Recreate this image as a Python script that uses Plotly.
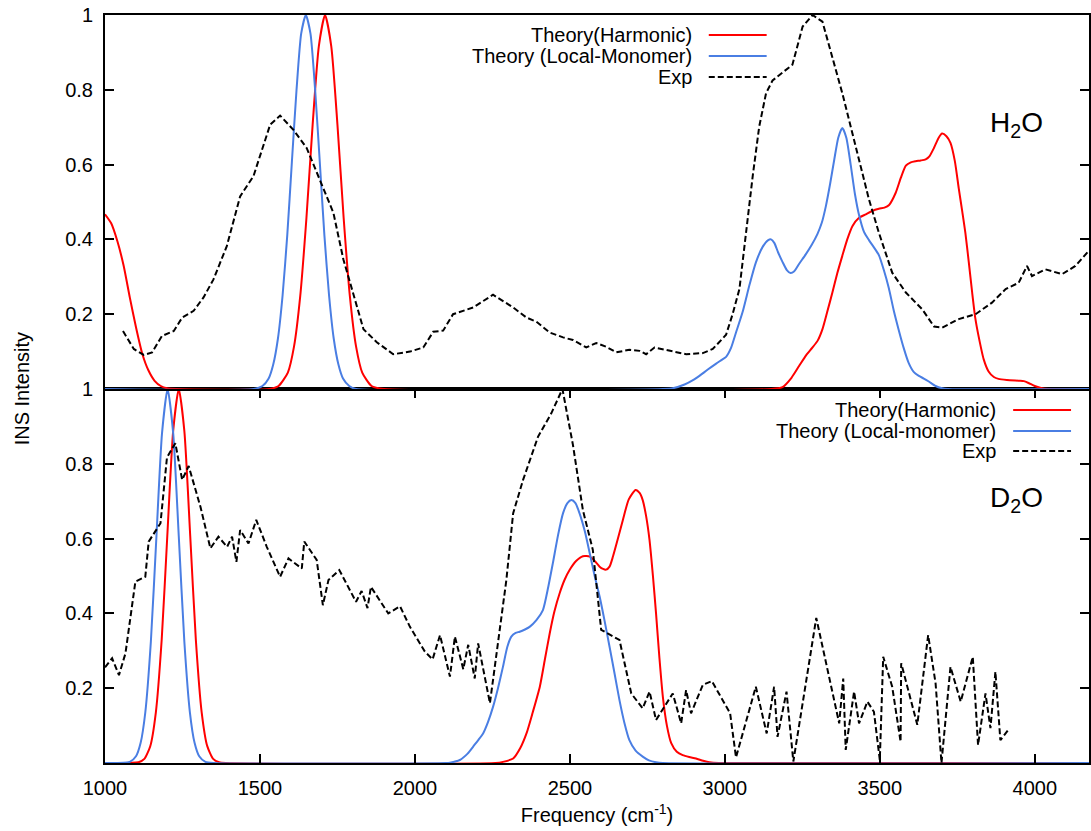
import plotly.graph_objects as go

# ---------------- H2O (top panel) ----------------
h2o_harm_x = [1000, 1020, 1040, 1060, 1080, 1100, 1120, 1140, 1160, 1180, 1200, 1230,
              1530, 1560, 1590, 1610, 1630, 1650, 1670, 1690, 1710, 1730, 1750, 1770, 1790,
              1810, 1830, 1860, 1900,
              3150, 3186, 3215, 3240, 3262, 3283, 3300, 3315, 3330, 3347, 3363, 3379, 3395,
              3412, 3433, 3455, 3475, 3497, 3515, 3530, 3551, 3568, 3584, 3600, 3616, 3632,
              3648, 3660, 3675, 3690, 3701, 3715, 3728, 3742, 3755, 3766, 3776, 3787, 3798,
              3808, 3819, 3835, 3851, 3868, 3883, 3910, 3948, 3965, 3980, 4000, 4020, 4044, 4175]
h2o_harm_y = [0.467, 0.443, 0.395, 0.33, 0.245, 0.165, 0.095, 0.05, 0.022, 0.008, 0.002, 0.0,
              0.0, 0.008, 0.044, 0.114, 0.249, 0.458, 0.707, 0.917, 1.0, 0.917, 0.707, 0.458, 0.249,
              0.114, 0.044, 0.008, 0.0,
              0.0, 0.005, 0.03, 0.062, 0.09, 0.111, 0.13, 0.16, 0.205, 0.258, 0.31, 0.356, 0.40,
              0.436, 0.458, 0.467, 0.476, 0.482, 0.485, 0.492, 0.524, 0.565, 0.597, 0.606, 0.609, 0.611,
              0.614, 0.622, 0.645, 0.672, 0.683, 0.676, 0.658, 0.61, 0.535, 0.475, 0.418, 0.34, 0.258,
              0.19, 0.14, 0.08, 0.047, 0.032, 0.027, 0.024, 0.022, 0.021, 0.016, 0.008, 0.003, 0.0, 0.0]

h2o_lm_x = [1000, 1480, 1508, 1528, 1543, 1558, 1573, 1588, 1603, 1618, 1633, 1648, 1663, 1678,
            1693, 1708, 1723, 1738, 1753, 1768, 1788, 1810,
            2800, 2832, 2870, 2900, 2918, 2945, 2972, 2990, 3004, 3020, 3036, 3057, 3080, 3100,
            3122, 3140, 3149, 3160, 3172, 3186, 3200, 3212, 3224, 3240, 3261, 3280, 3299, 3313,
            3326, 3340, 3353, 3366, 3379, 3392, 3406, 3420, 3433, 3449, 3465, 3480, 3497, 3513,
            3529, 3545, 3561, 3577, 3593, 3610, 3626, 3642, 3658, 3680, 3701, 3720, 4175]
h2o_lm_y = [0.0, 0.0, 0.008, 0.028, 0.066, 0.135, 0.25, 0.41, 0.607, 0.80, 0.95, 1.0, 0.95, 0.80,
            0.607, 0.41, 0.25, 0.135, 0.066, 0.028, 0.008, 0.0,
            0.0, 0.002, 0.012, 0.025, 0.035, 0.052, 0.068, 0.078, 0.086, 0.11, 0.151, 0.205, 0.28, 0.338,
            0.38, 0.398, 0.4, 0.39, 0.365, 0.34, 0.318, 0.31, 0.315, 0.335, 0.36, 0.385, 0.415, 0.445,
            0.489, 0.55, 0.613, 0.672, 0.698, 0.672, 0.60, 0.52, 0.465, 0.42, 0.398, 0.38, 0.358, 0.318,
            0.27, 0.21, 0.158, 0.11, 0.07, 0.045, 0.035, 0.028, 0.02, 0.008, 0.002, 0.0, 0.0]

h2o_exp_x = [1058, 1093, 1125, 1152, 1184, 1222, 1249, 1286, 1318, 1350, 1393, 1436, 1479, 1533,
             1565, 1608, 1651, 1694, 1737, 1769, 1801, 1834, 1877, 1930, 1984, 2027, 2059, 2091,
             2123, 2188, 2252, 2317, 2360, 2392, 2435, 2478, 2510, 2553, 2585, 2617, 2650, 2692,
             2725, 2746, 2773, 2811, 2875, 2929, 2961, 3004, 3025, 3047, 3068, 3090, 3111, 3133,
             3154, 3218, 3251, 3283, 3315, 3347, 3379, 3406, 3433, 3465, 3497, 3540, 3584, 3637,
             3675, 3701, 3755, 3809, 3862, 3906, 3948, 3975, 3991, 4034, 4088, 4131, 4175]
h2o_exp_y = [0.155, 0.107, 0.091, 0.098, 0.142, 0.155, 0.191, 0.209, 0.245, 0.293, 0.382, 0.515, 0.569, 0.707,
             0.731, 0.693, 0.644, 0.56, 0.471, 0.347, 0.258, 0.16, 0.125, 0.093, 0.1, 0.111, 0.153, 0.156,
             0.2, 0.218, 0.252, 0.218, 0.191, 0.18, 0.151, 0.138, 0.131, 0.111, 0.123, 0.113, 0.098, 0.105,
             0.102, 0.093, 0.111, 0.104, 0.093, 0.096, 0.107, 0.145, 0.2, 0.267, 0.418, 0.57, 0.702, 0.791,
             0.825, 0.867, 0.969, 1.0, 0.982, 0.889, 0.791, 0.702, 0.613, 0.507, 0.418, 0.311, 0.258, 0.213,
             0.167, 0.164, 0.187, 0.2, 0.231, 0.267, 0.284, 0.329, 0.302, 0.32, 0.307, 0.329, 0.37]

# ---------------- D2O (bottom panel) ----------------
d2o_harm_x = [1000, 1108, 1127, 1146, 1164, 1183, 1201, 1220, 1238, 1256, 1275, 1293, 1312, 1330,
              1349, 1368, 1390,
              2260, 2284, 2317, 2340, 2360, 2380, 2403, 2420, 2435, 2450, 2467, 2483, 2499, 2520,
              2542, 2564, 2580, 2596, 2607, 2617, 2628, 2639, 2655, 2671, 2690, 2712, 2725, 2735,
              2746, 2757, 2768, 2778, 2789, 2800, 2813, 2827, 2845, 2864, 2885, 2907, 2930, 2950,
              2980, 4175]
d2o_harm_y = [0.0, 0.002, 0.011, 0.045, 0.135, 0.331, 0.607, 0.888, 1.0, 0.888, 0.607, 0.331, 0.135, 0.045,
              0.011, 0.002, 0.0,
              0.0, 0.003, 0.012, 0.04, 0.079, 0.135, 0.204, 0.28, 0.347, 0.405, 0.454, 0.49, 0.516, 0.54,
              0.553, 0.552, 0.54, 0.525, 0.519, 0.517, 0.525, 0.552, 0.60, 0.65, 0.705, 0.73, 0.722, 0.703,
              0.66, 0.596, 0.50, 0.40, 0.28, 0.177, 0.10, 0.053, 0.03, 0.021, 0.016, 0.012, 0.006, 0.002,
              0.0, 0.0]

d2o_lm_x = [1000, 1080, 1100, 1115, 1130, 1148, 1166, 1184, 1202, 1220, 1238, 1256, 1274, 1289,
            1304, 1324, 1350,
            2100, 2113, 2145, 2170, 2188, 2205, 2220, 2236, 2252, 2268, 2284, 2298, 2311, 2325,
            2338, 2355, 2370, 2392, 2413, 2430, 2445, 2462, 2478, 2492, 2505, 2518, 2531, 2548,
            2564, 2580, 2596, 2612, 2628, 2644, 2660, 2676, 2692, 2712, 2735, 2755, 2778, 2800, 4175]
d2o_lm_y = [0.0, 0.003, 0.018, 0.054, 0.135, 0.325, 0.607, 0.882, 1.0, 0.882, 0.607, 0.325, 0.135, 0.054,
            0.018, 0.003, 0.0,
            0.0, 0.001, 0.008, 0.025, 0.044, 0.062, 0.079, 0.11, 0.15, 0.20, 0.257, 0.31, 0.338, 0.348,
            0.351, 0.357, 0.364, 0.382, 0.409, 0.47, 0.534, 0.61, 0.668, 0.695, 0.703, 0.695, 0.668, 0.62,
            0.561, 0.50, 0.445, 0.38, 0.311, 0.24, 0.168, 0.107, 0.061, 0.033, 0.017, 0.007, 0.002, 0.0, 0.0]

d2o_exp_x = [1000, 1023, 1045, 1066, 1098, 1130, 1141, 1179, 1200, 1227, 1249, 1270, 1308, 1340,
             1366, 1394, 1410, 1424, 1436, 1463, 1488, 1522, 1565, 1592, 1635, 1643, 1683, 1703,
             1721, 1756, 1810, 1828, 1847, 1858, 1914, 1952, 1984, 2032, 2057, 2081, 2113, 2129,
             2156, 2172, 2193, 2204, 2242, 2274, 2295, 2317, 2349, 2397, 2440, 2476, 2510, 2542,
             2574, 2601, 2660, 2698, 2735, 2757, 2778, 2832, 2859, 2875, 2891, 2929, 2958, 3017,
             3036, 3100, 3135, 3159, 3170, 3199, 3221, 3295, 3369, 3382, 3390, 3417, 3433, 3460,
             3481, 3500, 3511, 3540, 3567, 3569, 3621, 3656, 3680, 3699, 3728, 3761, 3800, 3817,
             3841, 3857, 3873, 3889, 3914]
d2o_exp_y = [0.256, 0.28, 0.235, 0.293, 0.485, 0.498, 0.592, 0.641, 0.817, 0.855, 0.757, 0.794, 0.685, 0.574,
             0.605, 0.578, 0.605, 0.538, 0.623, 0.587, 0.65, 0.578, 0.498, 0.547, 0.52, 0.592, 0.543, 0.422,
             0.489, 0.516, 0.431, 0.46, 0.414, 0.471, 0.4, 0.419, 0.364, 0.298, 0.277, 0.342, 0.231, 0.338,
             0.251, 0.316, 0.226, 0.32, 0.16, 0.356, 0.489, 0.668, 0.757, 0.872, 0.935, 1.0, 0.85, 0.676,
             0.57, 0.356, 0.329, 0.186, 0.146, 0.191, 0.115, 0.186, 0.106, 0.195, 0.133, 0.209, 0.219, 0.133,
             0.015, 0.204, 0.079, 0.204, 0.07, 0.191, 0.004, 0.388, 0.106, 0.226, 0.035, 0.191, 0.106, 0.164,
             0.137, 0.008, 0.284, 0.204, 0.057, 0.267, 0.102, 0.342, 0.213, 0.0, 0.257, 0.164, 0.284, 0.048,
             0.186, 0.093, 0.244, 0.061, 0.088]

x_ticks = [1000, 1500, 2000, 2500, 3000, 3500, 4000]
y_ticks = [0.2, 0.4, 0.6, 0.8, 1.0]
y_ticktext = ["0.2", "0.4", "0.6", "0.8", "1"]

top_legend = ["Theory(Harmonic)", "Theory (Local-Monomer)", "Exp"]
bot_legend = ["Theory(Harmonic)", "Theory (Local-monomer)", "Exp"]

RED = "#ff0000"
BLUE = "#4a7ee3"
BLACK = "#000000"
DASH = "6px,3px"
FONT = "Liberation Sans, Arial, Helvetica, sans-serif"

fig = go.Figure()

# top panel
fig.add_trace(go.Scatter(x=h2o_harm_x, y=h2o_harm_y, mode="lines", xaxis="x2", yaxis="y2",
                         line=dict(color=RED, width=2, shape="spline", smoothing=0.6), showlegend=False))
fig.add_trace(go.Scatter(x=h2o_lm_x, y=h2o_lm_y, mode="lines", xaxis="x2", yaxis="y2",
                         line=dict(color=BLUE, width=2, shape="spline", smoothing=0.6), showlegend=False))
fig.add_trace(go.Scatter(x=h2o_exp_x, y=h2o_exp_y, mode="lines", xaxis="x2", yaxis="y2",
                         line=dict(color=BLACK, width=2, dash=DASH), showlegend=False))
# bottom panel
fig.add_trace(go.Scatter(x=d2o_harm_x, y=d2o_harm_y, mode="lines", xaxis="x", yaxis="y",
                         line=dict(color=RED, width=2, shape="spline", smoothing=0.6), showlegend=False))
fig.add_trace(go.Scatter(x=d2o_lm_x, y=d2o_lm_y, mode="lines", xaxis="x", yaxis="y",
                         line=dict(color=BLUE, width=2, shape="spline", smoothing=0.6), showlegend=False))
fig.add_trace(go.Scatter(x=d2o_exp_x, y=d2o_exp_y, mode="lines", xaxis="x", yaxis="y",
                         line=dict(color=BLACK, width=2, dash=DASH), showlegend=False))

X_RANGE = [1000, 4175]
axis_common = dict(showgrid=False, zeroline=False, showline=True, linecolor="black", linewidth=2,
                   tickcolor="black", tickwidth=1.5, ticklen=9, ticks="inside",
                   tickfont=dict(family=FONT, size=20, color="black"))

fig.update_layout(
    width=1091, height=831,
    margin=dict(l=105, r=0, t=15, b=68),
    paper_bgcolor="white", plot_bgcolor="white",
    font=dict(family=FONT, size=20, color="black"),
    xaxis=dict(axis_common, domain=[0, 1], anchor="y", range=X_RANGE, tickvals=x_ticks,
               mirror="ticks", ticklabelstandoff=6,
               title=dict(text="Frequency (cm<sup>-1</sup>)", font=dict(family=FONT, size=20), standoff=10)),
    yaxis=dict(axis_common, domain=[0, 0.5], anchor="x", range=[0, 1], tickvals=y_ticks,
               ticktext=y_ticktext, mirror="ticks", ticklabelstandoff=6),
    xaxis2=dict(axis_common, domain=[0, 1], anchor="y2", range=X_RANGE, ticks="", showticklabels=False,
                mirror=True),
    yaxis2=dict(axis_common, domain=[0.5, 1], anchor="x2", range=[0, 1], tickvals=y_ticks,
                ticktext=y_ticktext, mirror="ticks", ticklabelstandoff=6),
)

# y axis title
fig.add_annotation(text="INS Intensity", xref="paper", yref="paper", x=-0.084, y=0.5,
                   textangle=-90, showarrow=False, font=dict(family=FONT, size=20),
                   xanchor="center", yanchor="middle")

# panel labels
fig.add_annotation(text="H<sub>2</sub>O", xref="paper", yref="paper", x=0.926, y=0.853,
                   showarrow=False, font=dict(family=FONT, size=28), xanchor="center", yanchor="middle")
fig.add_annotation(text="D<sub>2</sub>O", xref="paper", yref="paper", x=0.926, y=0.352,
                   showarrow=False, font=dict(family=FONT, size=28), xanchor="center", yanchor="middle")

# custom legends (text right, sample line to the right)
W = 986.0
H = 748.0
def px_x(p):
    return (p - 105) / W
def px_y(p):
    return (763 - p) / H

styles = [dict(color=RED, width=2), dict(color=BLUE, width=2), dict(color=BLACK, width=2, dash=DASH)]
for labels, text_right, line_x0, line_x1, rows in [
    (top_legend, 695, 710, 768, [35, 56, 77]),
    (bot_legend, 1000, 1015, 1073, [410, 431, 451]),
]:
    for lab, row, st in zip(labels, rows, styles):
        fig.add_annotation(text=lab, xref="paper", yref="paper", x=px_x(text_right), y=px_y(row),
                           showarrow=False, xanchor="right", yanchor="middle",
                           font=dict(family=FONT, size=20))
        fig.add_shape(type="line", xref="paper", yref="paper", x0=px_x(line_x0), x1=px_x(line_x1),
                      y0=px_y(row), y1=px_y(row), line=st)

fig.write_html("out.html")
